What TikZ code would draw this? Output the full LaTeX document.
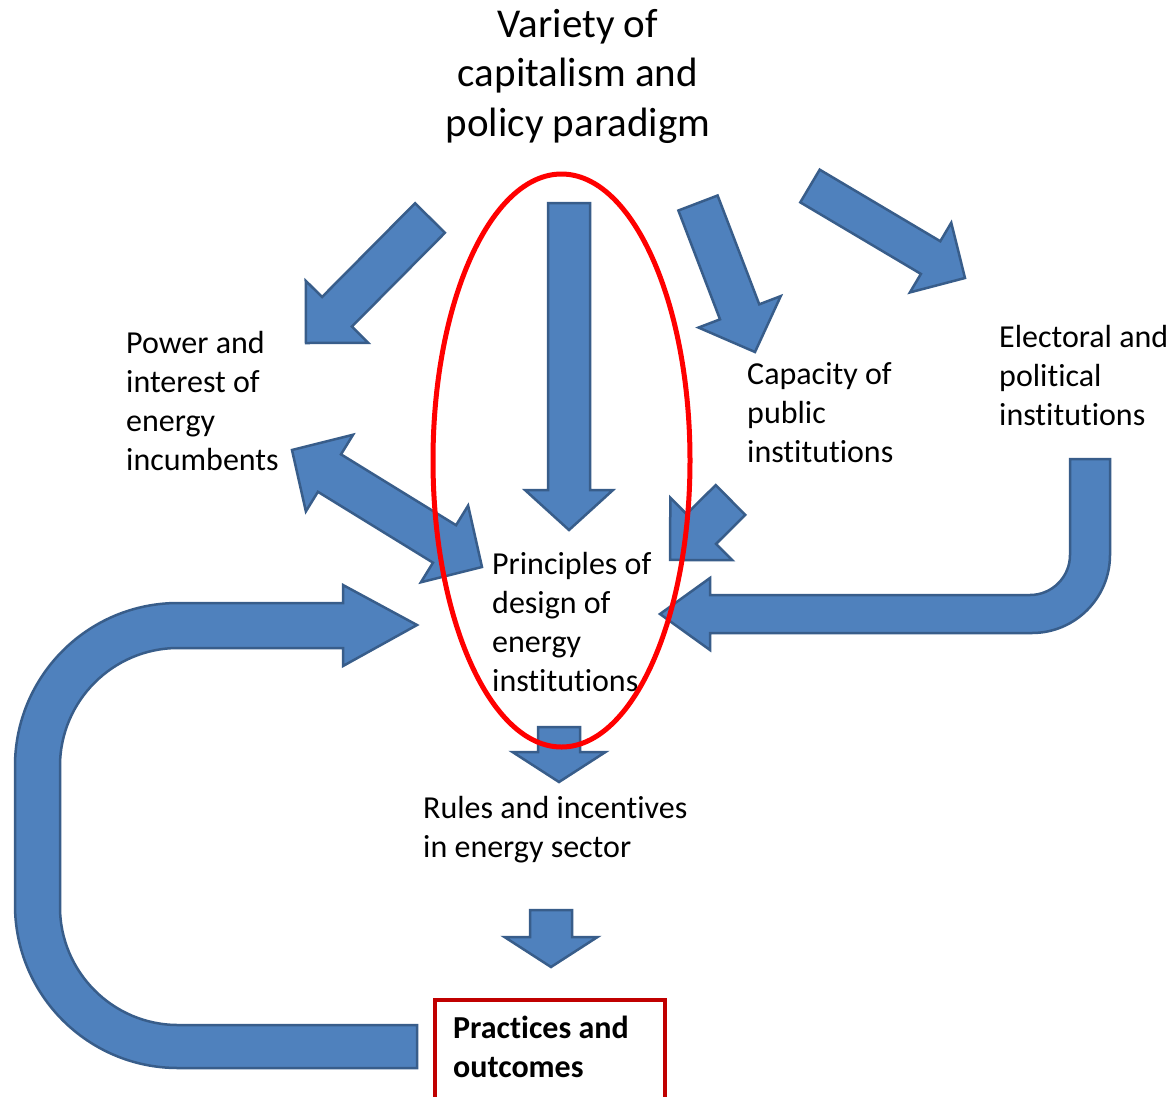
\documentclass[tikz,border=0pt]{standalone}
\usepackage{fontspec}
\setmainfont{Carlito}[Ligatures=NoCommon]
\definecolor{arrfill}{HTML}{4F81BD}
\definecolor{arrline}{HTML}{385D8A}
\definecolor{ovalred}{HTML}{FF0000}
\definecolor{boxred}{HTML}{C00000}
\tikzset{
  barr/.style={fill=arrfill, draw=arrline, line width=2.5pt, line join=miter},
  lbl/.style={inner sep=0pt, anchor=base west, align=left, font=\fontsize{32}{38.8}\selectfont},
  ttlstyle/.style={inner sep=0pt, anchor=base, align=center, font=\fontsize{41}{49.5}\selectfont}
}
% single block arrow: tail centre (x1,y1), tip (x2,y2), shaft width, head width, head length
\newcommand{\blockarr}[7]{%
  \pgfmathsetmacro{\baang}{atan2(-((#4)-(#2)),(#3)-(#1))}%
  \pgfmathsetmacro{\balen}{veclen((#3)-(#1),(#4)-(#2))}%
  \pgfmathsetmacro{\babase}{\balen-(#7)}%
  \begin{scope}[shift={(#1,#2)},rotate=\baang]
    \path[barr] (0,#5/2) -- (\babase,#5/2) -- (\babase,#6/2) -- (\balen,0)
      -- (\babase,-#6/2) -- (\babase,-#5/2) -- (0,-#5/2) -- cycle;
  \end{scope}}
% double block arrow: tip1, tip2, shaft width, head width, head length
\newcommand{\dblarr}[7]{%
  \pgfmathsetmacro{\baang}{atan2(-((#4)-(#2)),(#3)-(#1))}%
  \pgfmathsetmacro{\balen}{veclen((#3)-(#1),(#4)-(#2))}%
  \pgfmathsetmacro{\babase}{\balen-(#7)}%
  \begin{scope}[shift={(#1,#2)},rotate=\baang]
    \path[barr] (0,0) -- (#7,#6/2) -- (#7,#5/2) -- (\babase,#5/2) -- (\babase,#6/2) -- (\balen,0)
      -- (\babase,-#6/2) -- (\babase,-#5/2) -- (#7,-#5/2) -- (#7,-#6/2) -- cycle;
  \end{scope}}
\begin{document}
\begin{tikzpicture}[x=1pt,y=-1pt]
\useasboundingbox (0,0) rectangle (1173,1096);
\clip (0,0) rectangle (1173,1096);
\fill[white] (0,0) rectangle (1173,1096);

% title
\node[ttlstyle] (ttl) at (578,136) {Variety of\\capitalism and\\policy paradigm};

% arrows from the title
\blockarr{430}{218}{306}{343}{42}{88}{44}
\blockarr{569}{203}{569}{530}{42}{88}{40}
\blockarr{698}{203}{755}{352}{42}{88}{43}
\blockarr{810}{186}{965}{278}{38}{81}{40}

% double arrow
\dblarr{292}{450}{482}{567}{44}{90}{44}

% small arrow from capacity
\blockarr{730.5}{500}{670}{560}{42}{88}{44}

% U-turn arrow from electoral institutions
\path[barr] (1110,459) -- (1110,555) .. controls (1110,598) and (1075,633) .. (1032,633)
  -- (710,633) -- (710,650) -- (660,614) -- (710,578) -- (710,595) -- (1030,595)
  .. controls (1052,595) and (1070,577) .. (1070,555) -- (1070,459) -- cycle;

% feedback C-arrow
\path[barr] (417,1068) -- (178,1068) .. controls (88,1068) and (15,995) .. (15,905)
  -- (15,766) .. controls (15,676) and (88,603) .. (178,603)
  -- (343,603) -- (343,585) -- (417,625) -- (343,666) -- (343,648)
  -- (178,648) .. controls (113,648) and (60,701) .. (60,766)
  -- (60,907) .. controls (60,972) and (113,1025) .. (178,1025)
  -- (417,1025) -- cycle;

% down arrows
\blockarr{559}{727}{559}{782}{42}{93}{30}
\blockarr{551}{910}{551}{967}{42}{93}{30}

% labels (anchored at the baseline of their last line)
\node[lbl] (pwr) at (126,470) {Power and\\interest of\\energy\\incumbents};
\node[lbl] (cap) at (747,462.5) {Capacity of\\public\\institutions};
\node[lbl] (ele) at (999,425.5) {Electoral and\\political\\institutions};
\node[lbl] (pri) at (492,691) {Principles of\\design of\\energy\\institutions};
\node[lbl] (rul) at (423,857.5) {Rules and incentives\\in energy sector};
\node[lbl, font=\fontsize{32}{38.8}\selectfont\bfseries] (prc) at (453,1077.5) {Practices and\\outcomes};

% outcome box
\draw[boxred, line width=4pt] (435,1000) rectangle (665,1120);

% red oval
\draw[ovalred, line width=5pt] (561.5,460.5) ellipse [x radius=128.5, y radius=286.5];
\end{tikzpicture}
\end{document}
